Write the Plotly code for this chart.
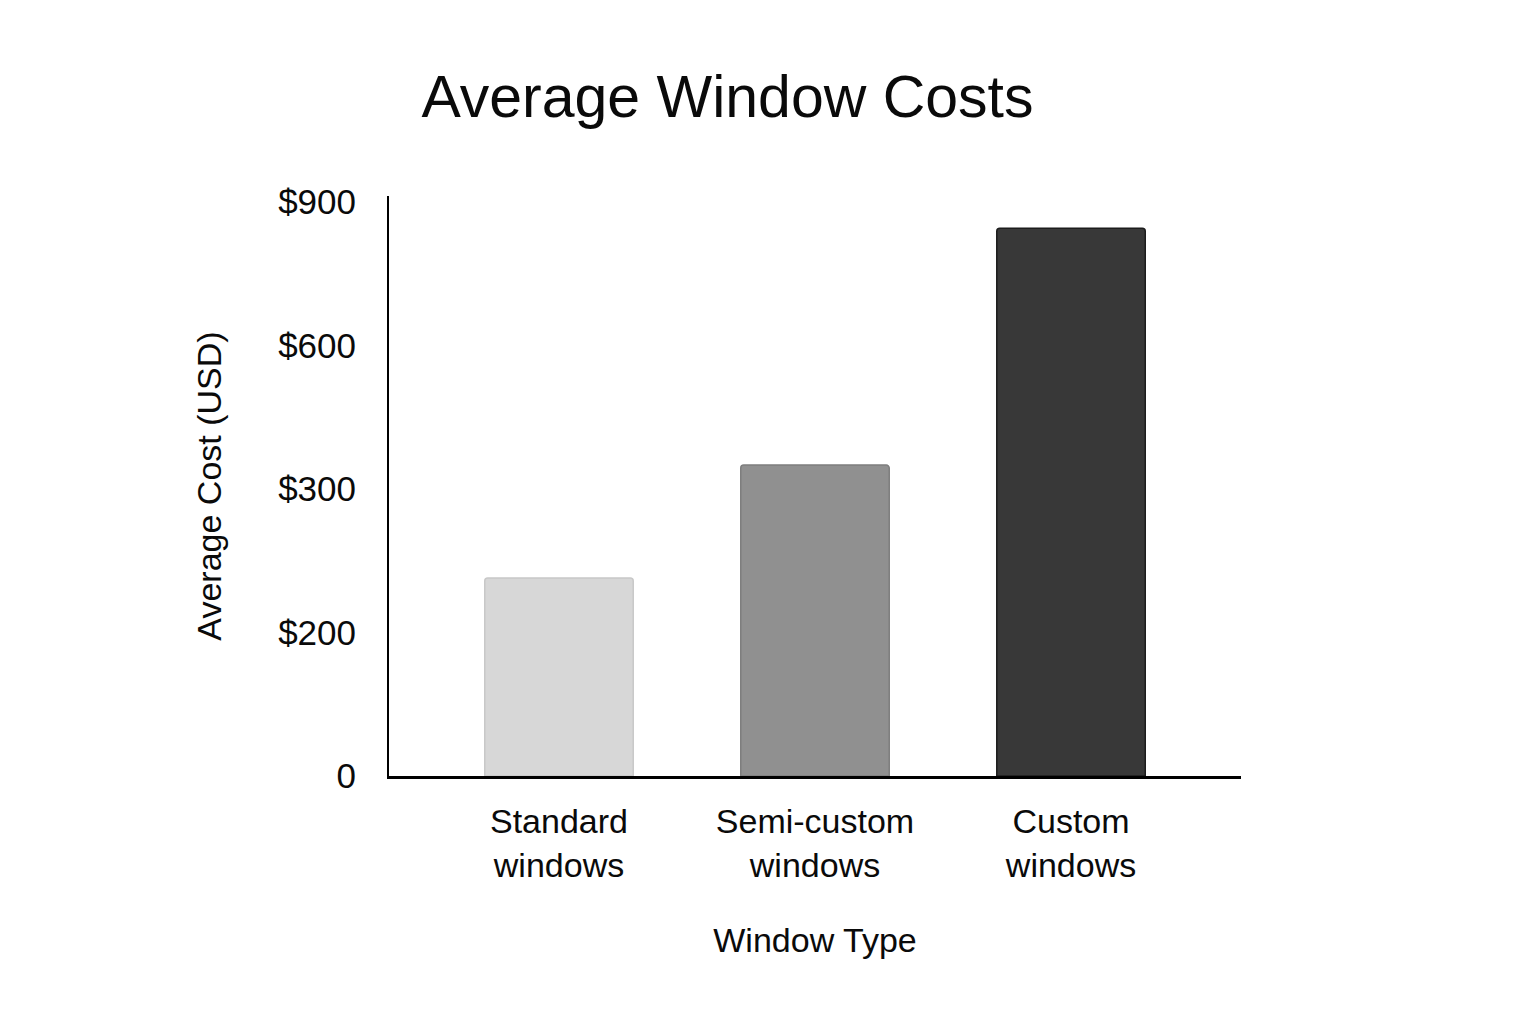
import numpy as np
import plotly.graph_objects as go

# data
window_types = ["Standard<br>windows", "Semi-custom<br>windows", "Custom<br>windows"]
avg_cost = [238, 350, 845]  # USD

# the y axis is not linear: the labelled dollar values sit at equal steps
tick_dollars = [0, 200, 300, 600, 900]
tick_labels = ["0", "$200", "$300", "$600", "$900"]
tick_steps = list(range(len(tick_dollars)))

fill_colors = ["#d7d7d7", "#909090", "#383838"]
edge_colors = ["#c8c8c8", "#7e7e7e", "#1c1c1c"]

# map dollar values onto the piecewise axis
bar_heights = np.interp(avg_cost, tick_dollars, tick_steps)

font_family = "Liberation Sans, Arial, sans-serif"

fig = go.Figure()
fig.add_trace(go.Bar(
    x=window_types,
    y=bar_heights,
    width=0.58,
    marker=dict(color=fill_colors, line=dict(color=edge_colors, width=1.5)),
    customdata=avg_cost,
    hovertemplate="%{x}: $%{customdata}<extra></extra>",
))

fig.update_layout(
    width=1536,
    height=1024,
    paper_bgcolor="white",
    plot_bgcolor="white",
    margin=dict(l=381, r=303, t=188, b=256),
    barcornerradius=3,
    showlegend=False,
    font=dict(family=font_family, color="#0a0a0a"),
    title=dict(
        text="Average Window Costs",
        font=dict(size=59, color="#0a0a0a"),
        x=0.4684, xanchor="center",
        y=0.914, yref="container", yanchor="middle",
    ),
)

fig.update_xaxes(
    range=[-0.664, 2.664],
    showline=True, linecolor="black", linewidth=2.5,
    showgrid=False, ticks="",
    tickfont=dict(size=34),
    ticklabelstandoff=13,
    title=dict(text="Window Type", font=dict(size=34), standoff=46),
)

fig.update_yaxes(
    range=[0, 4.042],
    tickmode="array", tickvals=tick_steps, ticktext=tick_labels,
    showline=True, linecolor="black", linewidth=2,
    showgrid=False, zeroline=False, ticks="",
    tickfont=dict(size=35),
    ticklabelstandoff=24,
    title=dict(text="Average Cost (USD)", font=dict(size=34), standoff=46),
)

fig.write_html("out.html")
